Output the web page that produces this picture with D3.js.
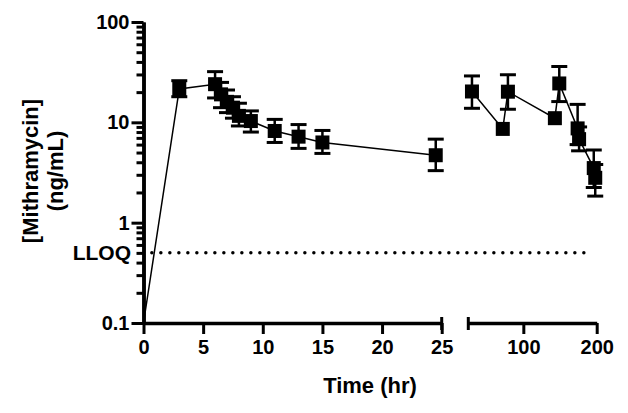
<!DOCTYPE html>
<html>
<head>
<meta charset="utf-8">
<script src="https://cdn.jsdelivr.net/npm/d3@7"></script>
<style>
  body { margin: 0; background: #fff; }
  svg { display: block; font-family: "Liberation Sans", Arial, sans-serif; font-weight: bold; }
</style>
</head>
<body>
<svg width="628" height="413"></svg>
<script>
// ---- data ----
// first panel, 0-25 hr
let early_t  = [0, 3, 6, 6.5, 7, 7.5, 8, 9, 11, 13, 15, 24.5];
let early_y  = [0.1, 21.5, 24, 19, 16, 14, 11.6, 10.3, 8.2, 7.2, 6.3, 4.7];
let early_lo = [0.1, 18, 17.5, 14, 12.5, 11, 9.2, 8.0, 6.3, 5.5, 4.9, 3.3];
let early_hi = [0.1, 26, 32, 25, 21, 18, 15.5, 13, 10.7, 9.5, 8.3, 6.8];
// second panel, 25-200 hr
let late_t  = [30, 72, 79, 143, 149, 174, 176, 196, 198];
let late_y  = [20.3, 8.6, 20.2, 11.0, 24.4, 8.7, 6.8, 3.5, 2.8];
let late_lo = [13.8, 8.6, 13.5, 11.0, 16.1, 6.0, 5.2, 2.24, 1.84];
let late_hi = [29, 8.6, 29.8, 11.0, 36, 15.1, 9.0, 5.3, 3.8];

let yMajor = [0.1, 1, 10, 100];
let x1Ticks = [0, 5, 10, 15, 20, 25];
let x2Ticks = [100, 200];
let lloq = 0.5;

let svg = d3.select("svg");

let y = d3.scaleLog().domain([0.1, 100]).range([323, 22]);
let x1 = d3.scaleLinear().domain([0, 25]).range([143.5, 441.7]);
let x2 = d3.scaleLinear().domain([25, 200]).range([468.3, 596.7]);

let early = early_t.map((t, i) => ({t: t, v: early_y[i], lo: early_lo[i], hi: early_hi[i]}));
let late = late_t.map((t, i) => ({t: t, v: late_y[i], lo: late_lo[i], hi: late_hi[i]}));

// minor log ticks 2..9 per decade
let yMinor = [];
[0.1, 1, 10].forEach(d => { for (let k = 2; k <= 9; k++) yMinor.push(+(d * k).toPrecision(3)); });

// ---- axes ----
function styleAxis(g) {
  g.select(".domain").attr("stroke", "#000").attr("stroke-width", 3.5);
  g.selectAll(".tick line").attr("stroke", "#000").attr("stroke-width", 3);
  g.selectAll(".tick text").attr("fill", "#000").attr("font-size", 20).attr("font-weight", "bold")
    .attr("font-family", "'Liberation Sans', Arial, sans-serif");
}

svg.append("g")
  .attr("transform", "translate(" + x1(0) + ",0)")
  .call(d3.axisLeft(y).tickValues(yMinor).tickSize(7).tickSizeOuter(0).tickFormat(""))
  .call(styleAxis);

svg.append("g")
  .attr("transform", "translate(" + x1(0) + ",0)")
  .call(d3.axisLeft(y).tickValues(yMajor).tickSize(12).tickSizeOuter(0).tickPadding(2)
    .tickFormat(d => d3.format("~g")(d)))
  .call(styleAxis);

svg.append("g")
  .attr("transform", "translate(0," + y(0.1) + ")")
  .call(d3.axisBottom(x1).tickValues(x1Ticks).tickSize(11).tickSizeOuter(0).tickPadding(6))
  .call(styleAxis);

svg.append("g")
  .attr("transform", "translate(0," + y(0.1) + ")")
  .call(d3.axisBottom(x2).tickValues(x2Ticks).tickSize(11).tickSizeOuter(0).tickPadding(6))
  .call(styleAxis);

// break marks at the ends of the gap
[x1(25), x2(25)].forEach(px => {
  svg.append("line")
    .attr("x1", px).attr("x2", px)
    .attr("y1", y(0.1) - 6).attr("y2", y(0.1) + 7)
    .attr("stroke", "#000").attr("stroke-width", 3);
});

// ---- LLOQ ----
svg.append("line")
  .attr("x1", x1(0.7)).attr("x2", x2(192))
  .attr("y1", y(lloq)).attr("y2", y(lloq))
  .attr("stroke", "#000").attr("stroke-width", 3.5)
  .attr("stroke-linecap", "round")
  .attr("stroke-dasharray", "0 9");

svg.append("text")
  .attr("x", 131).attr("y", y(lloq))
  .attr("dy", "0.36em")
  .attr("text-anchor", "end")
  .attr("font-size", 21)
  .text("LLOQ");

// ---- series ----
function drawSeries(data, x) {
  let line = d3.line().x(d => x(d.t)).y(d => y(d.v));
  svg.append("path")
    .datum(data)
    .attr("d", line)
    .attr("fill", "none")
    .attr("stroke", "#000")
    .attr("stroke-width", 1.5);

  let pts = data.filter(d => d.t > 0);
  let eb = svg.append("g").attr("stroke", "#000");
  eb.selectAll(".stem").data(pts).enter().append("line")
    .attr("x1", d => x(d.t)).attr("x2", d => x(d.t))
    .attr("y1", d => y(d.hi)).attr("y2", d => y(d.lo))
    .attr("stroke-width", 2.5);
  eb.selectAll(".capHi").data(pts.filter(d => d.hi > d.v)).enter().append("line")
    .attr("x1", d => x(d.t) - 8).attr("x2", d => x(d.t) + 8)
    .attr("y1", d => y(d.hi)).attr("y2", d => y(d.hi))
    .attr("stroke-width", 3);
  eb.selectAll(".capLo").data(pts.filter(d => d.lo < d.v)).enter().append("line")
    .attr("x1", d => x(d.t) - 8).attr("x2", d => x(d.t) + 8)
    .attr("y1", d => y(d.lo)).attr("y2", d => y(d.lo))
    .attr("stroke-width", 3);

  svg.append("g").selectAll("rect").data(pts).enter().append("rect")
    .attr("x", d => x(d.t) - 7)
    .attr("y", d => y(d.v) - 7)
    .attr("width", 14).attr("height", 14)
    .attr("fill", "#000");
}
drawSeries(early, x1);
drawSeries(late, x2);

// ---- titles ----
svg.append("text")
  .attr("x", 370).attr("y", 393)
  .attr("text-anchor", "middle")
  .attr("font-size", 22)
  .text("Time (hr)");

let yl = svg.append("text")
  .attr("transform", "translate(30,171) rotate(-90)")
  .attr("text-anchor", "middle")
  .attr("font-size", 22);
yl.append("tspan").attr("x", 0).attr("dy", "0.35em").text("[Mithramycin]");
yl.append("tspan").attr("x", 0).attr("dy", "1.15em").text("(ng/mL)");
</script>
</body>
</html>
